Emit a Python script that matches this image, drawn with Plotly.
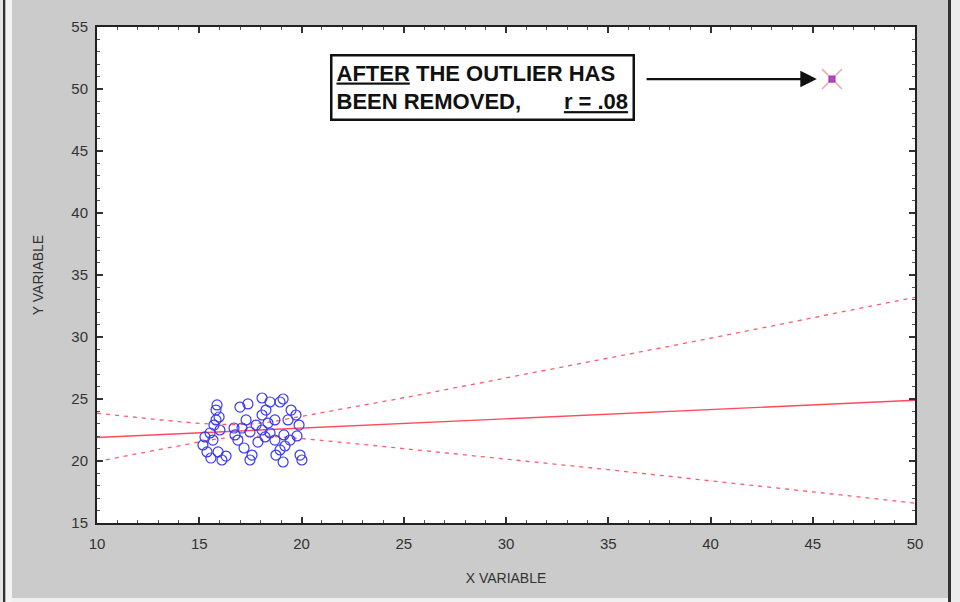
import plotly.graph_objects as go

# Cluster of observations (outlier removed from fit)
x_pts = [15.87, 15.82, 15.97, 15.72, 15.53, 15.28, 15.18, 15.38, 15.57, 15.92,
         16.11, 16.31, 15.67, 16.01, 15.82, 16.99, 17.38, 18.07, 18.46, 18.26,
         18.07, 18.95, 19.10, 19.49, 19.34, 19.73, 19.88, 19.78, 19.44, 19.19,
         18.95, 18.75, 19.10, 17.48, 17.58, 17.19, 16.89, 16.75, 17.09, 17.48,
         17.78, 18.07, 18.22, 18.46, 18.70, 17.87, 19.93, 20.02, 19.14, 18.70,
         18.36, 17.29, 16.70]
y_pts = [24.52, 24.11, 23.55, 22.90, 22.26, 21.94, 21.29, 20.73, 20.24, 20.73,
         20.08, 20.40, 21.69, 22.50, 23.31, 24.35, 24.60, 25.08, 24.76, 24.11,
         23.71, 24.76, 25.00, 24.11, 23.31, 23.71, 22.90, 22.02, 21.69, 21.21,
         20.89, 20.48, 19.92, 20.08, 20.48, 21.05, 21.69, 22.10, 22.66, 22.34,
         22.90, 22.50, 21.94, 22.26, 21.69, 21.53, 20.48, 20.08, 22.10, 23.31,
         23.06, 23.31, 22.66]

# Outlier
outlier_x = [45.94]
outlier_y = [50.8]

# Regression line and confidence bands
fit_x = [10, 12, 14, 16, 18, 20, 22, 25, 30, 35, 40, 45, 50]
fit_y = [21.9, 22.05, 22.2, 22.35, 22.5, 22.65, 22.8, 23.03, 23.4, 23.78, 24.15, 24.53, 24.9]
upper_y = [23.85, 23.51, 23.18, 22.95, 23.05, 23.6, 24.2, 25.1, 26.7, 28.3, 29.9, 31.55, 33.2]
lower_y = [19.95, 20.59, 21.22, 21.8, 22.0, 21.8, 21.5, 21.0, 20.15, 19.3, 18.4, 17.51, 16.6]

x_ticks = [10, 15, 20, 25, 30, 35, 40, 45, 50]
y_ticks = [15, 20, 25, 30, 35, 40, 45, 50, 55]

FONT = "Liberation Sans, Arial, sans-serif"

fig = go.Figure()

fig.add_trace(go.Scatter(x=fit_x, y=upper_y, mode="lines", line_shape="spline",
                         line=dict(color="#ff5a6a", width=1.3, dash="4px,5px"),
                         hoverinfo="skip"))
fig.add_trace(go.Scatter(x=fit_x, y=lower_y, mode="lines", line_shape="spline",
                         line=dict(color="#ff5a6a", width=1.3, dash="4px,5px"),
                         hoverinfo="skip"))
fig.add_trace(go.Scatter(x=fit_x, y=fit_y, mode="lines",
                         line=dict(color="#ff4a5a", width=1.4)))

fig.add_trace(go.Scatter(x=x_pts, y=y_pts, mode="markers",
                         marker=dict(symbol="circle-open", size=10,
                                     color="#3a3af0", line=dict(width=1.2))))

fig.add_trace(go.Scatter(x=outlier_x, y=outlier_y, mode="markers",
                         marker=dict(symbol="x-thin-open", size=20,
                                     color="#f6a0a8", line=dict(width=1.5, color="#f6a0a8"))))
fig.add_trace(go.Scatter(x=outlier_x, y=outlier_y, mode="markers",
                         marker=dict(symbol="square", size=6, color="#c040c8",
                                     line=dict(width=1, color="#9030a0"))))

# Annotation box
fig.add_annotation(
    x=28.87, y=50.12, xref="x", yref="y",
    text="<b><u>AFTER</u> THE OUTLIER HAS<br>BEEN REMOVED,       <u>r = .08</u></b>",
    showarrow=False, align="left", xanchor="center", yanchor="middle",
    font=dict(family=FONT, size=22, color="#111"),
    bordercolor="#111", borderwidth=2.5, borderpad=4, bgcolor="white",
)
# Arrow
fig.add_annotation(
    x=45.2, y=50.8, ax=36.8, ay=50.8, xref="x", yref="y", axref="x", ayref="y",
    text="", showarrow=True, arrowhead=2, arrowsize=1.5, arrowwidth=2.2, arrowcolor="#111",
)

axis_common = dict(
    showline=True, linecolor="#222", linewidth=2, mirror="ticks",
    ticks="inside", ticklen=6, tickwidth=1.5, tickcolor="#333",
    showgrid=False, zeroline=False,
    tickfont=dict(family=FONT, size=15, color="#333"),
    minor=dict(ticks="inside", ticklen=3, tickwidth=1, tickcolor="#555", dtick=1, showgrid=False),
)

fig.update_xaxes(range=[10, 50], tickvals=x_ticks, ticklabelstandoff=6, **axis_common,
                 title=dict(text="X VARIABLE", standoff=22,
                            font=dict(family=FONT, size=14, color="#333")))
fig.update_yaxes(range=[15, 55], tickvals=y_ticks, ticklabelstandoff=4, **axis_common,
                 title=dict(text="Y VARIABLE", standoff=24,
                            font=dict(family=FONT, size=14, color="#333")))

fig.update_layout(
    width=960, height=602,
    margin=dict(l=97, r=45, t=27, b=79),
    paper_bgcolor="#cbcbcb", plot_bgcolor="white",
    showlegend=False,
)

# side bars (white strip + dark frame lines) in pixel-based paper coordinates
W, H = 818.0, 496.0
def px_x(p):
    return (p - 97) / W
def px_y(p):
    return 1 - (p - 27) / H
fig.add_shape(type="rect", xref="paper", yref="paper", x0=px_x(0), x1=px_x(3), y0=px_y(602), y1=px_y(0),
              fillcolor="#e6e6e6", line=dict(width=0), layer="below")
fig.add_shape(type="rect", xref="paper", yref="paper", x0=px_x(3), x1=px_x(5.5), y0=px_y(602), y1=px_y(0),
              fillcolor="#333", line=dict(width=0), layer="below")
fig.add_shape(type="rect", xref="paper", yref="paper", x0=px_x(5.5), x1=px_x(12), y0=px_y(602), y1=px_y(0),
              fillcolor="#f4f4f4", line=dict(width=0), layer="below")
fig.add_shape(type="rect", xref="paper", yref="paper", x0=px_x(948), x1=px_x(951), y0=px_y(602), y1=px_y(0),
              fillcolor="#333", line=dict(width=0), layer="below")
fig.add_shape(type="rect", xref="paper", yref="paper", x0=px_x(951), x1=px_x(960), y0=px_y(602), y1=px_y(0),
              fillcolor="#ececec", line=dict(width=0), layer="below")
fig.add_shape(type="rect", xref="paper", yref="paper", x0=px_x(12), x1=px_x(948), y0=px_y(602), y1=px_y(598),
              fillcolor="#f0f0f0", line=dict(width=0), layer="below")

fig.write_html("out.html")
